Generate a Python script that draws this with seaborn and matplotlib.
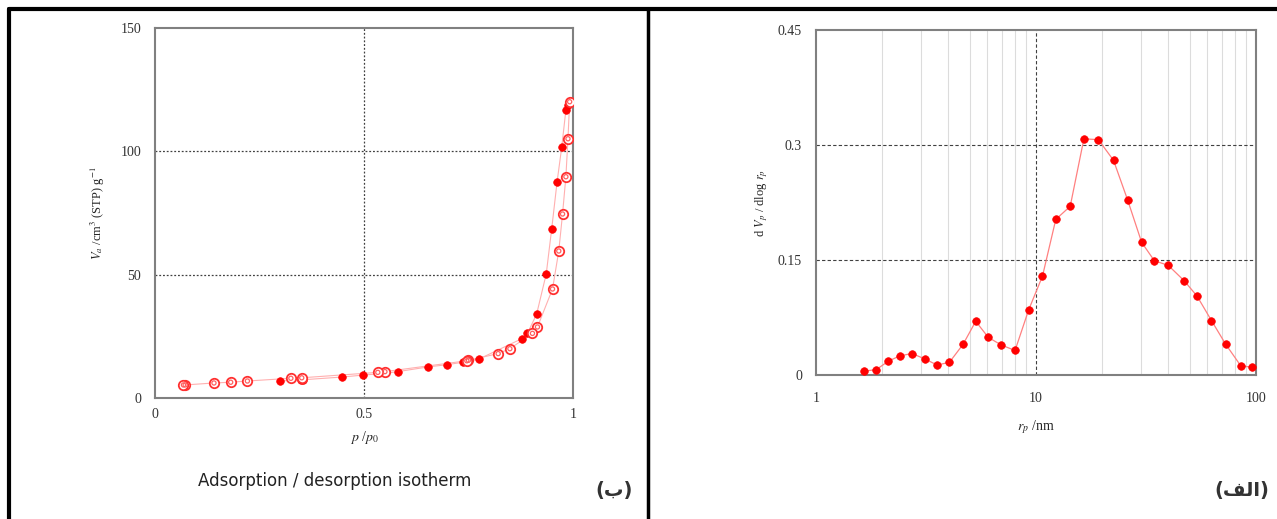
import matplotlib
matplotlib.use('Agg')

import numpy as np
import pandas as pd
import matplotlib.pyplot as plt
from matplotlib.lines import Line2D
import seaborn as sns

# isotherm data (p/p0, Va)
ads_p = [0.299, 0.349, 0.354, 0.447, 0.498, 0.550, 0.581, 0.653, 0.698, 0.737,
         0.775, 0.877, 0.891, 0.913, 0.936, 0.949, 0.962, 0.973, 0.983, 0.987]
ads_v = [6.9, 7.4, 7.4, 8.5, 9.3, 10.0, 10.7, 12.6, 13.5, 14.5,
         15.8, 24.0, 26.2, 34.0, 50.3, 68.5, 87.7, 101.6, 116.7, 118.8]
des_p = [0.992, 0.988, 0.983, 0.975, 0.966, 0.951, 0.915, 0.903, 0.849, 0.821,
         0.750, 0.746, 0.550, 0.533, 0.351, 0.325, 0.221, 0.181, 0.141, 0.072, 0.068]
des_v = [120.1, 105.1, 89.7, 74.6, 59.6, 44.2, 28.8, 26.2, 20.0, 18.0,
         15.3, 15.1, 10.7, 10.4, 8.2, 8.0, 6.9, 6.4, 6.1, 5.3, 5.3]

# pore size distribution (rp / nm, dVp/dlog rp)
rp = [1.65, 1.88, 2.13, 2.41, 2.73, 3.12, 3.55, 4.04, 4.66, 5.32,
      6.07, 6.96, 8.03, 9.26, 10.7, 12.3, 14.3, 16.5, 19.2, 22.5,
      26.1, 30.2, 34.5, 39.9, 47.1, 53.9, 62.7, 72.8, 85.2, 96.2]
dv = [0.005, 0.007, 0.018, 0.025, 0.028, 0.021, 0.013, 0.0165, 0.040, 0.070,
      0.049, 0.039, 0.032, 0.085, 0.129, 0.203, 0.220, 0.308, 0.307, 0.280,
      0.228, 0.173, 0.149, 0.143, 0.123, 0.103, 0.071, 0.040, 0.012, 0.010]

iso_yticks = [0, 50, 100, 150]
iso_xticks = [0, 0.5, 1]
psd_yticks = [0, 0.15, 0.3, 0.45]
psd_xticks = [1, 10, 100]

caption = "Adsorption / desorption isotherm"
label_b = "(\u0628)"
label_alef = "(\ufed2\ufedf\u0627)"

sns.set_style("white")
plt.rcParams['font.family'] = ['Liberation Serif', 'DejaVu Serif']
plt.rcParams['mathtext.fontset'] = 'stix'

RED = '#ff0000'
PINK = '#ffb0b0'
SPINE = '#808080'

fig = plt.figure(figsize=(12.77, 5.19), dpi=100)

ads = pd.DataFrame({"p": ads_p, "v": ads_v})
des = pd.DataFrame({"p": des_p, "v": des_v})
psd = pd.DataFrame({"rp": rp, "dv": dv})

# ---- left: isotherm ----
ax1 = fig.add_axes([0.1214, 0.2331, 0.3273, 0.7130])
sns.lineplot(data=ads, x="p", y="v", sort=False, color=PINK, lw=0.8, ax=ax1)
sns.lineplot(data=des, x="p", y="v", sort=False, color=PINK, lw=0.8, ax=ax1)
sns.scatterplot(data=ads, x="p", y="v", color=RED, s=30, edgecolor=RED, lw=0.5, ax=ax1, zorder=3)
sns.scatterplot(data=des, x="p", y="v", s=46, facecolor='white', edgecolor='#ff3030', lw=1.3, ax=ax1, zorder=3)
sns.scatterplot(data=des, x="p", y="v", s=9, facecolor='none', edgecolor='#ff6060', lw=0.9, ax=ax1, zorder=4)
ax1.set_xlim(0, 1)
ax1.set_ylim(0, 150)
ax1.set_xticks(iso_xticks)
ax1.set_xticklabels(["0", "0.5", "1"])
ax1.set_yticks(iso_yticks)
ax1.set_yticklabels([str(t) for t in iso_yticks])
ax1.set_xlabel(r"$p$ /$p_0$", fontsize=10, labelpad=6)
ax1.set_ylabel(r"$V_a$ /cm$^3$ (STP) g$^{-1}$", fontsize=9, labelpad=10)
for v in [50, 100]:
    ax1.axhline(v, color='#404040', ls=(0, (1.5, 1.5)), lw=0.9, zorder=1)
ax1.axvline(0.5, color='#404040', ls=(0, (1.5, 1.5)), lw=0.9, zorder=1)

# ---- right: pore size distribution ----
ax2 = fig.add_axes([0.6390, 0.2775, 0.3446, 0.6647])
ax2.set_xscale('log')
minor = [m * d for d in (1, 10) for m in range(2, 10)]
for x in minor:
    ax2.axvline(x, color='#dcdcdc', lw=0.8, zorder=0)
ax2.axvline(10, color='#404040', ls=(0, (3, 2)), lw=0.8, zorder=1)
for v in [0.15, 0.3]:
    ax2.axhline(v, color='#404040', ls=(0, (3, 2)), lw=0.8, zorder=1)
sns.lineplot(data=psd, x="rp", y="dv", color='#ff8080', lw=0.9, ax=ax2)
sns.scatterplot(data=psd, x="rp", y="dv", color=RED, s=30, edgecolor=RED, lw=0.5, ax=ax2, zorder=3)
ax2.set_xlim(1, 100)
ax2.set_ylim(0, 0.45)
ax2.set_xticks(psd_xticks)
ax2.set_xticklabels(["1", "10", "100"])
ax2.xaxis.set_minor_locator(matplotlib.ticker.NullLocator())
ax2.set_yticks(psd_yticks)
ax2.set_yticklabels(["0", "0.15", "0.3", "0.45"])
ax2.set_xlabel(r"$r_p$ /nm", fontsize=10, labelpad=10)
ax2.set_ylabel(r"d $V_p$ / dlog $r_p$", fontsize=9, labelpad=6)

for ax in (ax1, ax2):
    for s in ax.spines.values():
        s.set_visible(True)
        s.set_color(SPINE)
        s.set_linewidth(1.5)
    ax.tick_params(axis='y', length=0, labelsize=10, pad=10, colors='#333333')
ax1.tick_params(axis='x', length=0, labelsize=10, pad=7, colors='#333333')
ax2.tick_params(axis='x', length=0, labelsize=10, pad=12, colors='#333333')

# captions and panel labels
fig.text(0.155, 0.064, caption, fontsize=12, family='DejaVu Sans', color='#222222')
fig.text(0.466, 0.045, label_b, fontsize=14, family='DejaVu Sans', weight='bold', color='#333333')
fig.text(0.951, 0.045, label_alef, fontsize=14, family='DejaVu Sans', weight='bold', color='#333333')

# outer frame
fig.add_artist(Line2D([0.007, 1.0], [0.983, 0.983], color='black', lw=3, transform=fig.transFigure))
fig.add_artist(Line2D([0.007, 0.007], [0.0, 0.983], color='black', lw=3, transform=fig.transFigure))
fig.add_artist(Line2D([0.5075, 0.5075], [0.0, 0.983], color='black', lw=2.5, transform=fig.transFigure))

fig.savefig("out.png", dpi=100, facecolor='white')
